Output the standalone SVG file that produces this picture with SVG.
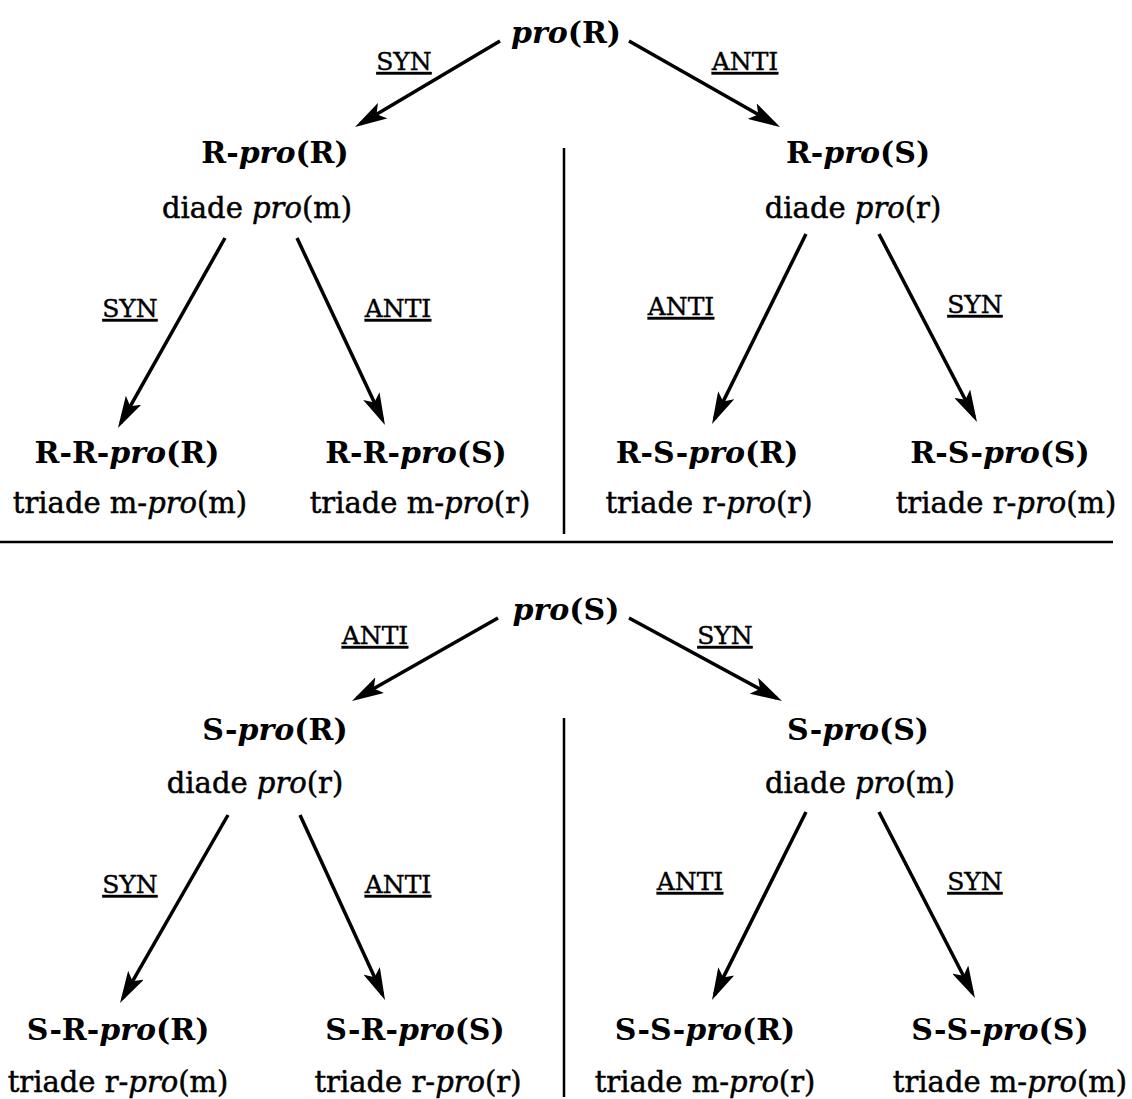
<svg xmlns="http://www.w3.org/2000/svg" width="1132" height="1099" viewBox="0 0 1132 1099">
<defs>
<style>
text{font-family:"DejaVu Serif","Liberation Serif",serif;fill:#000;text-anchor:middle}
.b{font-weight:bold;font-size:30px}
.top{font-weight:bold;font-size:30px}
.r{font-size:29px;stroke:#000;stroke-width:0.5}
.i{font-style:italic}
.lab{font-size:25px;text-decoration:underline;stroke:#000;stroke-width:0.4}
.c line{stroke:#000;stroke-width:3.5;marker-end:url(#ah)}
.d line{stroke:#000;stroke-width:2.5}
</style>
<marker id="ah" viewBox="0 0 32 18" refX="26" refY="9" markerWidth="32" markerHeight="18" orient="auto" markerUnits="userSpaceOnUse">
<path d="M0,0 L32,9 L0,18 L7,9 z" fill="#000"/>
</marker>
</defs>
<rect width="1132" height="1099" fill="#fff"/>
<g id="dividers" class="d">
<line x1="564" y1="148" x2="564" y2="534"/>
<line x1="0" y1="542" x2="1113" y2="542"/>
<line x1="564" y1="718" x2="564" y2="1097"/>
</g>
<g id="connectors" class="c">
<line x1="500" y1="41" x2="360.2" y2="123.9"/>
<line x1="629" y1="41" x2="774.8" y2="124"/>
<line x1="225" y1="238" x2="120.9" y2="422.8"/>
<line x1="297" y1="238" x2="382.4" y2="419.6"/>
<line x1="806" y1="234" x2="714.7" y2="418.6"/>
<line x1="879" y1="234" x2="974.2" y2="416.7"/>
<line x1="498" y1="618" x2="357.2" y2="698"/>
<line x1="629" y1="618" x2="776.7" y2="698.1"/>
<line x1="228" y1="815" x2="123" y2="997.8"/>
<line x1="300" y1="815" x2="382.5" y2="994.5"/>
<line x1="806" y1="812" x2="714.7" y2="994.6"/>
<line x1="879" y1="812" x2="972.2" y2="992.7"/>
</g>
<g id="edge-labels">
<text class="lab" x="404" y="70">SYN</text>
<text class="lab" x="745" y="70">ANTI</text>
<text class="lab" x="130" y="317">SYN</text>
<text class="lab" x="398" y="317">ANTI</text>
<text class="lab" x="681" y="315">ANTI</text>
<text class="lab" x="975" y="313">SYN</text>
<text class="lab" x="375" y="644">ANTI</text>
<text class="lab" x="725" y="644">SYN</text>
<text class="lab" x="130" y="893">SYN</text>
<text class="lab" x="398" y="893">ANTI</text>
<text class="lab" x="690" y="890">ANTI</text>
<text class="lab" x="975" y="890">SYN</text>
</g>
<g id="n-proR"><text class="top" x="566" y="43"><tspan class="i">pro</tspan>(R)</text></g>
<g id="n-R-proR">
<text class="b" x="275" y="163">R-<tspan class="i">pro</tspan>(R)</text>
<text class="r" x="257" y="218">diade <tspan class="i">pro</tspan>(m)</text>
</g>
<g id="n-R-proS">
<text class="b" x="858" y="163">R-<tspan class="i">pro</tspan>(S)</text>
<text class="r" x="853" y="218">diade <tspan class="i">pro</tspan>(r)</text>
</g>
<g id="n-RR-proR">
<text class="b" x="127" y="463">R-R-<tspan class="i">pro</tspan>(R)</text>
<text class="r" x="130" y="513">triade m-<tspan class="i">pro</tspan>(m)</text>
</g>
<g id="n-RR-proS">
<text class="b" x="416" y="463">R-R-<tspan class="i">pro</tspan>(S)</text>
<text class="r" x="420" y="513">triade m-<tspan class="i">pro</tspan>(r)</text>
</g>
<g id="n-RS-proR">
<text class="b" x="707" y="463">R-S-<tspan class="i">pro</tspan>(R)</text>
<text class="r" x="709" y="513">triade r-<tspan class="i">pro</tspan>(r)</text>
</g>
<g id="n-RS-proS">
<text class="b" x="1000" y="463">R-S-<tspan class="i">pro</tspan>(S)</text>
<text class="r" x="1006" y="513">triade r-<tspan class="i">pro</tspan>(m)</text>
</g>
<g id="n-proS"><text class="top" x="566" y="620"><tspan class="i">pro</tspan>(S)</text></g>
<g id="n-S-proR">
<text class="b" x="275" y="740">S-<tspan class="i">pro</tspan>(R)</text>
<text class="r" x="255" y="793">diade <tspan class="i">pro</tspan>(r)</text>
</g>
<g id="n-S-proS">
<text class="b" x="858" y="740">S-<tspan class="i">pro</tspan>(S)</text>
<text class="r" x="860" y="793">diade <tspan class="i">pro</tspan>(m)</text>
</g>
<g id="n-SR-proR">
<text class="b" x="118" y="1040">S-R-<tspan class="i">pro</tspan>(R)</text>
<text class="r" x="118" y="1092">triade r-<tspan class="i">pro</tspan>(m)</text>
</g>
<g id="n-SR-proS">
<text class="b" x="415" y="1040">S-R-<tspan class="i">pro</tspan>(S)</text>
<text class="r" x="418" y="1092">triade r-<tspan class="i">pro</tspan>(r)</text>
</g>
<g id="n-SS-proR">
<text class="b" x="705" y="1040">S-S-<tspan class="i">pro</tspan>(R)</text>
<text class="r" x="705" y="1092">triade m-<tspan class="i">pro</tspan>(r)</text>
</g>
<g id="n-SS-proS">
<text class="b" x="1000" y="1040">S-S-<tspan class="i">pro</tspan>(S)</text>
<text class="r" x="1010" y="1092">triade m-<tspan class="i">pro</tspan>(m)</text>
</g>
</svg>
